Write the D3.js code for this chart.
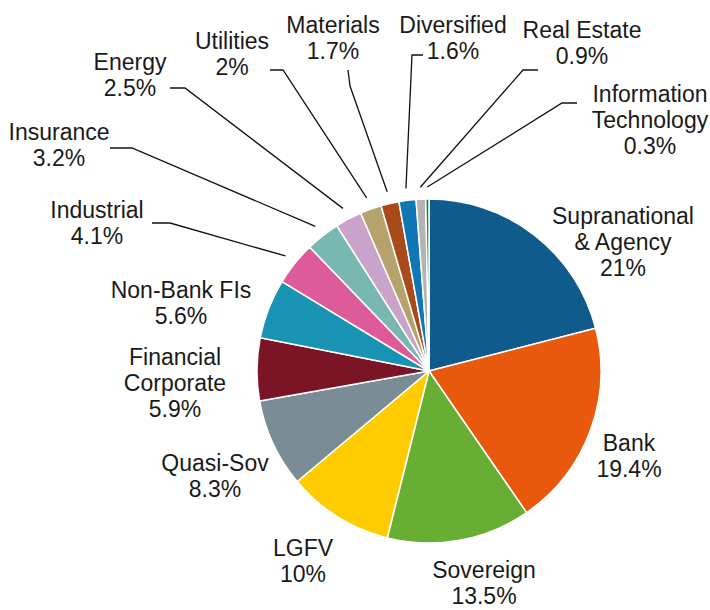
<!DOCTYPE html>
<html>
<head>
<meta charset="utf-8">
<script src="https://cdn.jsdelivr.net/npm/d3@7"></script>
<style>
  body { margin: 0; background: #fff; }
  text { font-family: "Liberation Sans", Arial, sans-serif; font-size: 23px; fill: #1a1a1a; }
</style>
</head>
<body>
<div id="vis"></div>
<script>
// Chart data
var sectors = ['Supranational & Agency', 'Bank', 'Sovereign', 'LGFV', 'Quasi-Sov',
  'Financial Corporate', 'Non-Bank FIs', 'Industrial', 'Insurance', 'Energy',
  'Utilities', 'Materials', 'Diversified', 'Real Estate', 'Information Technology'];
var shares = [21, 19.4, 13.5, 10, 8.3, 5.9, 5.6, 4.1, 3.2, 2.5, 2, 1.7, 1.6, 0.9, 0.3];
var shareLabels = ['21%', '19.4%', '13.5%', '10%', '8.3%', '5.9%', '5.6%', '4.1%',
  '3.2%', '2.5%', '2%', '1.7%', '1.6%', '0.9%', '0.3%'];
// label text split into lines
var labelLines = [['Supranational', '& Agency'], ['Bank'], ['Sovereign'], ['LGFV'], ['Quasi-Sov'],
  ['Financial', 'Corporate'], ['Non-Bank FIs'], ['Industrial'], ['Insurance'], ['Energy'],
  ['Utilities'], ['Materials'], ['Diversified'], ['Real Estate'], ['Information', 'Technology']];

var colors = ['#0f5b8c', '#e8590e', '#68ae34', '#ffcc00', '#7a8d96', '#7b1525', '#1893b3',
  '#de5b9b', '#78b8b0', '#c9a3c9', '#b5a26c', '#a94a1b', '#0f77b5', '#b3b3b3', '#1a7a3c'];

// Layout
var width = 710;
var height = 610;
var center = { x: 429, y: 371 };
var radius = 172;
var lineHeight = 26;

// label block centres, relative to the pie centre
var labelOffsets = [[194, -129], [200, 85], [55, 212], [-126, 190], [-214, 105],
  [-254, 12], [-248, -68], [-332, -148], [-370, -226], [-299, -296],
  [-197, -317], [-96, -333], [24, -333], [153, -328], [221, -251]];

// leader lines for the small slices: [start next to label, elbow], relative to the pie centre
var leaders = {
  7: [[-277, -148], [-259, -148]],
  8: [[-319, -223], [-297, -223]],
  9: [[-259, -283], [-244, -283]],
  10: [[-159, -301], [-146, -301]],
  11: [[-81, -301], [-79, -285]],
  12: [[-6, -316], [-17, -316]],
  13: [[109, -301], [94, -301]],
  14: [[148, -268], [133, -268]]
};

var svg = d3.select('#vis').append('svg')
  .attr('width', width)
  .attr('height', height);

var g = svg.append('g')
  .attr('transform', 'translate(' + center.x + ',' + center.y + ')');

var pie = d3.pie().sort(null).value(function (d) { return d; });
var arcs = pie(shares);

var arc = d3.arc().innerRadius(0).outerRadius(radius);

g.selectAll('path.slice')
  .data(arcs)
  .enter().append('path')
  .attr('class', 'slice')
  .attr('d', arc)
  .attr('fill', function (d, i) { return colors[i]; })
  .attr('stroke', '#fff')
  .attr('stroke-width', 1.5)
  .attr('stroke-linejoin', 'round');

// leader lines
var lineGen = d3.line();
Object.keys(leaders).forEach(function (k) {
  var i = +k;
  var a = (arcs[i].startAngle + arcs[i].endAngle) / 2;
  var r = radius + 12;
  var end = [r * Math.sin(a), -r * Math.cos(a)];
  var pts = leaders[k].concat([end]);
  g.append('path')
    .attr('d', lineGen(pts))
    .attr('fill', 'none')
    .attr('stroke', '#111')
    .attr('stroke-width', 1.3);
});

// labels
arcs.forEach(function (d, i) {
  var lines = labelLines[i].concat([shareLabels[i]]);
  var off = labelOffsets[i];
  var top = off[1] - (lines.length - 1) * lineHeight / 2;
  var t = g.append('text')
    .attr('text-anchor', 'middle');
  lines.forEach(function (s, j) {
    t.append('tspan')
      .attr('x', off[0])
      .attr('y', top + j * lineHeight)
      .attr('dy', '0.36em')
      .text(s);
  });
});
</script>
</body>
</html>
